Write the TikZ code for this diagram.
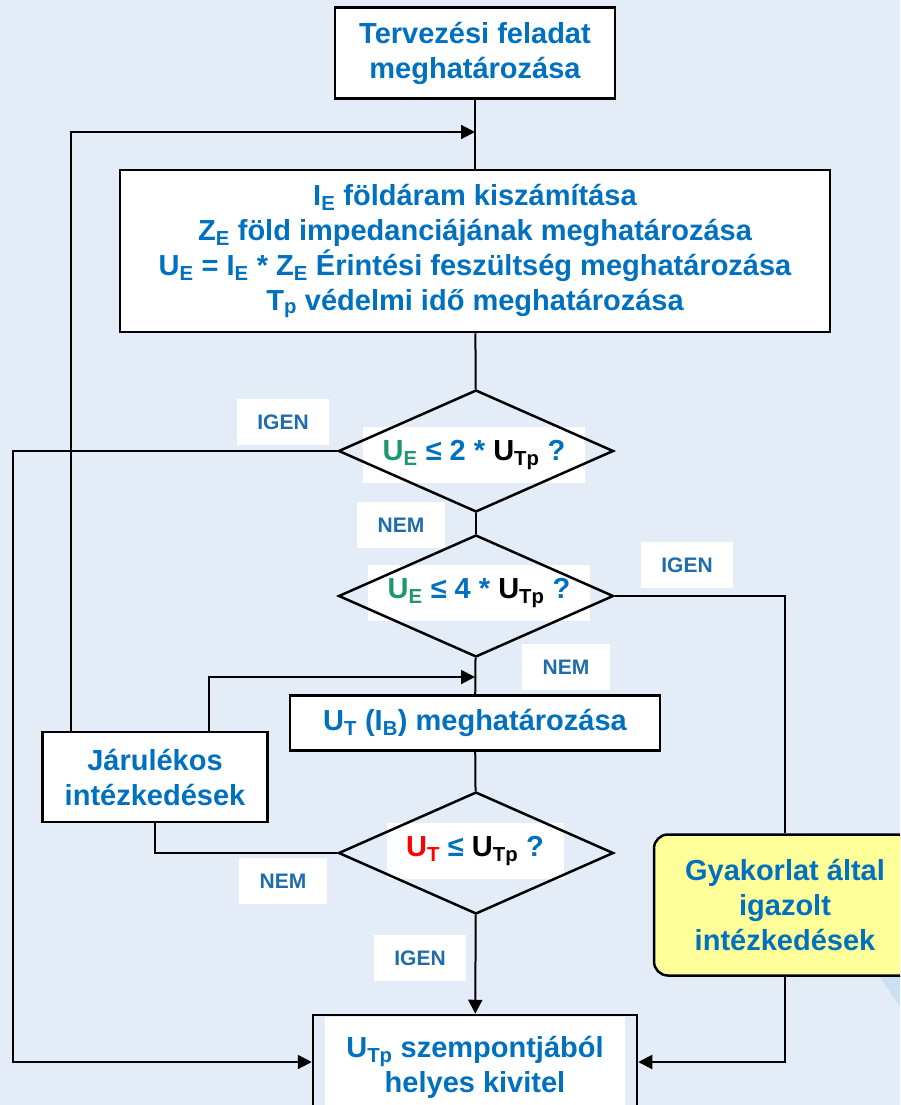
\documentclass[tikz,border=0pt]{standalone}
\usepackage{fontspec}
\setmainfont{Liberation Sans}
\usetikzlibrary{shapes.geometric,arrows.meta}
\definecolor{hatter}{RGB}{228,237,247}
\definecolor{hatterfolt}{RGB}{204,224,243}
\definecolor{kek}{RGB}{0,112,192}
\definecolor{cimkekek}{RGB}{31,108,172}
\definecolor{zold}{RGB}{30,150,110}
\definecolor{piros}{RGB}{255,0,0}
\definecolor{sarga}{RGB}{255,255,153}
\newcommand{\also}[1]{\textsubscript{#1}}
\tikzset{
  doboz/.style={draw, line width=2.5pt, fill=white, align=center, inner sep=0pt,
    text=kek, font=\bfseries\fontsize{29}{35}\selectfont},
  dontes/.style={diamond, draw, line width=2.5pt, inner sep=0pt,
    minimum width=275pt, minimum height=122pt},
  dontesszoveg/.style={fill=white, inner sep=0pt, minimum height=56pt,
    text=kek, font=\bfseries\fontsize{29}{35}\selectfont},
  cimke/.style={fill=white, inner sep=0pt, minimum width=88pt, minimum height=46pt,
    text=cimkekek, font=\bfseries\fontsize{21}{25}\selectfont},
  vonal/.style={line width=2pt},
  nyil/.style={vonal, -{Triangle[length=14pt,width=14pt]}}
}

\begin{document}
\begin{tikzpicture}[x=1pt, y=-1pt]
	% hatter
	\fill[hatter] (0,0) rectangle (900,1105);
	\useasboundingbox (0,0) rectangle (900,1105);
	\clip (0,0) rectangle (900,1105);
	\fill[hatterfolt] (877,973) -- (900,973) -- (900,1007) -- cycle;
	% dobozok
	\node[doboz, minimum width=280pt, minimum height=91pt] (feladat) at (475,53)
		{Tervezési feladat\\meghatározása};
	\node[doboz, minimum width=710pt, minimum height=162pt] (szamitas) at (475,251)
		{I\also{E} földáram kiszámítása\\
		 Z\also{E} föld impedanciájának meghatározása\\
		 U\also{E} = I\also{E} * Z\also{E} Érintési feszültség meghatározása\\
		 T\also{p} védelmi idő meghatározása};
	\node[doboz, minimum width=370pt, minimum height=55pt] (utb) at (475,723)
		{U\also{T} (I\also{B}) meghatározása};
	\node[doboz, minimum width=225pt, minimum height=90pt] (jarulekos) at (155,777)
		{Járulékos\\intézkedések};
	\node[doboz, fill=sarga, rounded corners=14pt, minimum width=262pt, minimum height=141pt]
		(gyakorlat) at (785,905) {Gyakorlat által\\igazolt\\intézkedések};
	\node[doboz, draw=none, minimum width=300pt, minimum height=100pt] (kivitelszoveg) at (475,1067)
		{U\also{Tp} szempontjából\\helyes kivitel};
	\node[draw, line width=2.5pt, minimum width=324pt, minimum height=104pt] (kivitel) at (475,1067) {};
	% dontesek: elobb a feher szovegdoboz, utana a rombusz
	\node[dontesszoveg, minimum width=222pt] (d1szoveg) at (474,455)
		{\textcolor{zold}{U\also{E}} ≤ 2 * \textcolor{black}{U\also{Tp}} ?};
	\node[dontes] (d1) at (476,451) {};
	\node[dontesszoveg, minimum width=222pt] (d2szoveg) at (479,593)
		{\textcolor{zold}{U\also{E}} ≤ 4 * \textcolor{black}{U\also{Tp}} ?};
	\node[dontes] (d2) at (476,596) {};
	\node[dontesszoveg, minimum width=177pt] (d3szoveg) at (475,851)
		{\textcolor{piros}{U\also{T}} ≤ \textcolor{black}{U\also{Tp}} ?};
	\node[dontes] (d3) at (476,853) {};
	% cimkek
	\node[cimke, minimum width=92pt] (igen1) at (283,422) {IGEN};
	\node[cimke] (nem1) at (401,525) {NEM};
	\node[cimke, minimum width=92pt] (igen2) at (687,565) {IGEN};
	\node[cimke] (nem2) at (566,667) {NEM};
	\node[cimke] (nem3) at (283,881) {NEM};
	\node[cimke, minimum width=92pt] (igen3) at (420,958) {IGEN};
	% csatlakozasi pontok
	\coordinate (vissza) at (475,132);
	\coordinate (belep) at (475,677);
	\coordinate (bal) at (13,1062);
	\coordinate (jobb) at (785,1062);
	% fo ag
	\draw[vonal] (feladat) -- (szamitas);
	\draw[vonal] (szamitas) -- (d1);
	\draw[vonal] (d1) -- (d2);
	\draw[vonal] (d2) -- (utb);
	\draw[vonal] (utb) -- (d3);
	\draw[nyil] (d3) -- (kivitel);
	% oldalagak
	\draw[nyil] (d1.west) -| (bal) -- (kivitel.west |- bal);
	\draw[vonal] (d2.east) -| (gyakorlat.north);
	\draw[nyil] (gyakorlat.south) -- (jobb) -- (kivitel.east |- jobb);
	\draw[vonal] (d3.west) -| (jarulekos.south);
	\draw[nyil] ([xshift=30pt]jarulekos.north west) |- (vissza);
	\draw[nyil] ([xshift=168pt]jarulekos.north west) |- (belep);
\end{tikzpicture}
\end{document}
